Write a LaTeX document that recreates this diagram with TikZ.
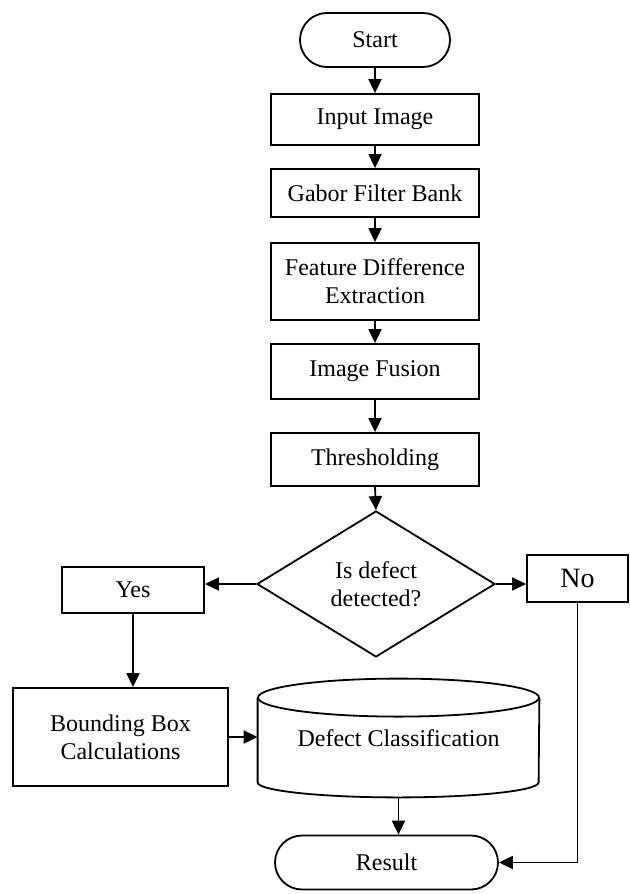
\documentclass[tikz,border=0pt]{standalone}
\usepackage{fontspec}
\setmainfont{Liberation Serif}
\usetikzlibrary{shapes.geometric,arrows.meta,calc}
\tikzstyle{process}=[draw,line width=0.9pt,minimum width=104pt,align=center,inner sep=2pt,font=\fontsize{12}{14}\selectfont]
\tikzstyle{terminal}=[process,rounded corners=13.5pt,minimum height=27pt]
\tikzstyle{decision}=[draw,diamond,line width=0.9pt,aspect=1.63,inner sep=0pt,minimum width=119pt,minimum height=73pt,align=center,font=\fontsize{12}{14}\selectfont]
\tikzstyle{flow}=[line width=0.9pt,-{Triangle[length=7pt,width=6.5pt]}]
\def\drumoutline(#1)(#2:#3:#4)% Syntax: (node) (half width:top cap:bottom cap)
    { \draw[line width=0.9pt] ($(#1.north)+(0,-#3)$) ellipse [x radius=#2, y radius=#3];
      \draw[line width=0.9pt] ($(#1.north west)+(0,-#3)$) -- ($(#1.south west)+(0,#4)$)
        arc [start angle=180, end angle=360, x radius=#2, y radius=#4] -- ($(#1.north east)+(0,-#3)$); }

\begin{document}
\begin{tikzpicture}[x=1pt,y=1pt]
	\useasboundingbox (0,0) rectangle (314.5,-447);
	\node[terminal,minimum width=75pt] (start) at (187.5,-20) {Start};
	\node[process,minimum height=25.5pt] (input) at (187.5,-59.75) {Input Image};
	\node[process,minimum height=24pt] (gabor) at (187.5,-96.5) {Gabor Filter Bank};
	\node[process,minimum height=38.5pt] (feature) at (187.5,-140.75) {Feature Difference\\Extraction};
	\node[process,minimum height=27.5pt] (fusion) at (187.5,-185.75) {Image Fusion};
	\node[process,minimum height=26.5pt] (thresh) at (187.5,-229.75) {Thresholding};
	\node[decision] (defect) at (188,-292) {Is defect\\detected?};
	\node[process,minimum width=71pt,minimum height=23pt] (yes) at (66.5,-295) {Yes};
	\node[process,minimum width=50.5pt,minimum height=23.5pt,font=\fontsize{14}{16}\selectfont] (no) at (288.75,-289.25) {No};
	\node[process,minimum width=107.5pt,minimum height=49pt] (bbox) at (60.25,-368.5) {Bounding Box\\Calculations};
	\node[minimum width=140.5pt,minimum height=59pt,font=\fontsize{12}{14}\selectfont] (classify) at (199.25,-369) {Defect Classification};
	\drumoutline(classify)(70.25:9.5:7.5) % drum
	\node[terminal,minimum width=111.5pt] (result) at (193.25,-431.25) {Result};
	% main column
	\draw[flow] (start) -- (input);
	\draw[flow] (input) -- (gabor);
	\draw[flow] (gabor) -- (feature);
	\draw[flow] (feature) -- (fusion);
	\draw[flow] (fusion) -- (thresh);
	\draw[flow] (thresh.south) -- (defect.north);
	% branches
	\draw[flow] (defect.west) -- (defect.west -| yes.east);
	\draw[flow] (defect.east) -- (defect.east -| no.west);
	\draw[flow] (yes.south) -- (yes.south |- bbox.north);
	\draw[flow] (bbox.east) -- (bbox.east -| classify.west);
	\draw[flow] (classify.south) -- (classify.south |- result.north);
	\draw[flow] (no.south) |- (result.east);
\end{tikzpicture}
\end{document}
